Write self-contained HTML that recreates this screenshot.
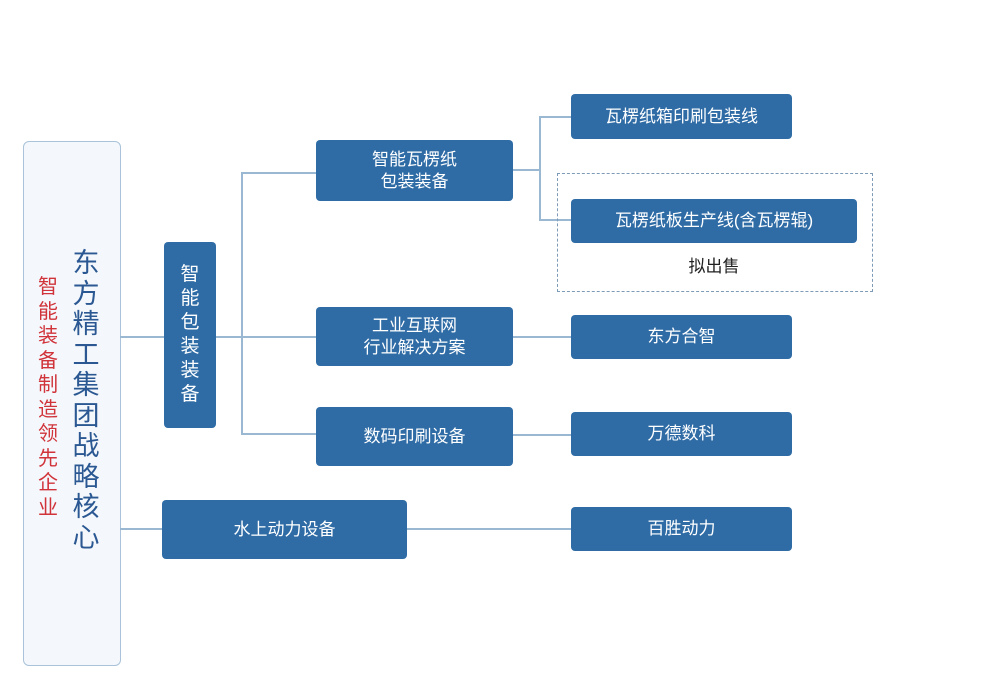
<!DOCTYPE html>
<html><head><meta charset="utf-8"><style>
body{margin:0;width:989px;height:696px;background:#fff;position:relative;overflow:hidden;font-family:"Liberation Sans","Noto Sans CJK SC",sans-serif}
.b{position:absolute;background:#2f6ca6;color:#fff;border-radius:4px;display:flex;align-items:center;justify-content:center;text-align:center;font-size:17px;line-height:22px}
.l{position:absolute;background:#9bb8d2}
</style></head><body>
<div style="position:absolute;left:23px;top:141px;width:96px;height:523px;background:#f4f8fc;border:1.5px solid #aac3da;border-radius:6px"></div>
<div style="position:absolute;left:70px;top:248px;width:32px;font-size:27px;line-height:30.5px;color:#2b5892;text-align:center">东方精工集团战略核心</div>
<div style="position:absolute;left:36px;top:275px;width:24px;font-size:20px;line-height:24.5px;color:#d0343a;text-align:center">智能装备制造领先企业</div>
<div class="l" style="left:120px;top:336px;width:44px;height:2px"></div>
<div class="l" style="left:120px;top:528px;width:42px;height:2px"></div>
<div class="l" style="left:216px;top:336px;width:100px;height:2px"></div>
<div class="l" style="left:241px;top:172px;width:2px;height:262px"></div>
<div class="l" style="left:241px;top:172px;width:75px;height:2px"></div>
<div class="l" style="left:241px;top:433px;width:75px;height:2px"></div>
<div class="l" style="left:513px;top:169px;width:27px;height:2px"></div>
<div class="l" style="left:539px;top:116px;width:2px;height:105px"></div>
<div class="l" style="left:539px;top:116px;width:32px;height:2px"></div>
<div class="l" style="left:539px;top:219px;width:32px;height:2px"></div>
<div class="l" style="left:513px;top:336px;width:58px;height:2px"></div>
<div class="l" style="left:513px;top:434px;width:58px;height:2px"></div>
<div class="l" style="left:407px;top:528px;width:164px;height:2px"></div>
<div class="b" style="left:164px;top:242px;width:52px;height:186px;font-size:19px;line-height:24px;padding:0 14px;box-sizing:border-box">智能包装装备</div>
<div class="b" style="left:162px;top:500px;width:245px;height:59px">水上动力设备</div>
<div class="b" style="left:316px;top:140px;width:197px;height:61px">智能瓦楞纸<br>包装装备</div>
<div class="b" style="left:316px;top:307px;width:197px;height:59px">工业互联网<br>行业解决方案</div>
<div class="b" style="left:316px;top:407px;width:197px;height:59px">数码印刷设备</div>
<div style="position:absolute;left:557px;top:173px;width:314px;height:117px;border:1.5px dashed #7d9ab6"></div>
<div class="b" style="left:571px;top:94px;width:221px;height:45px">瓦楞纸箱印刷包装线</div>
<div class="b" style="left:571px;top:199px;width:286px;height:44px">瓦楞纸板生产线(含瓦楞辊)</div>
<div style="position:absolute;left:664px;top:252px;width:100px;text-align:center;font-size:17px;color:#222">拟出售</div>
<div class="b" style="left:571px;top:315px;width:221px;height:44px">东方合智</div>
<div class="b" style="left:571px;top:412px;width:221px;height:44px">万德数科</div>
<div class="b" style="left:571px;top:507px;width:221px;height:44px">百胜动力</div>
</body></html>
